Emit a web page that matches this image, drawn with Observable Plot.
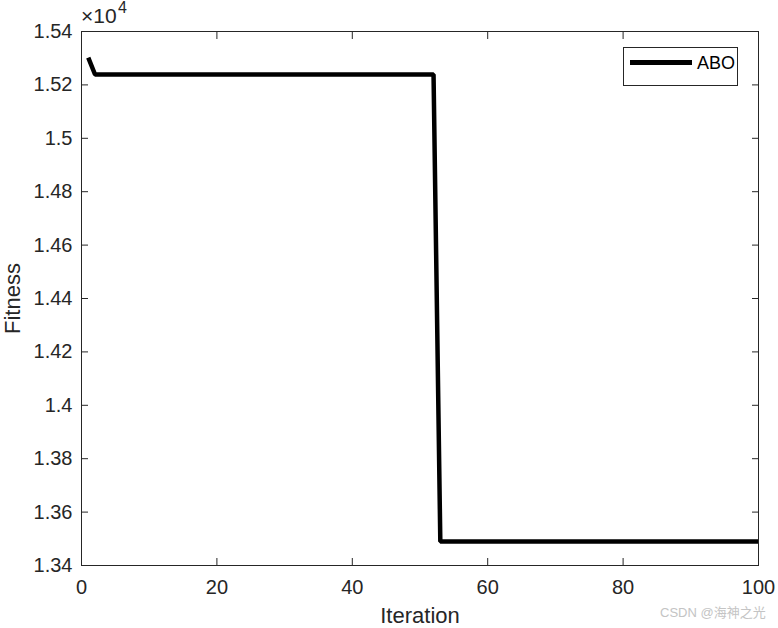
<!DOCTYPE html>
<html>
<head>
<meta charset="utf-8">
<script src="https://cdn.jsdelivr.net/npm/d3@7"></script>
<script src="https://cdn.jsdelivr.net/npm/@observablehq/plot@0.6"></script>
<style>
  html, body { margin: 0; padding: 0; background: #fff; }
  #wrap { position: relative; width: 778px; height: 628px; font-family: "Liberation Sans", Arial, sans-serif; }
  #exp { position: absolute; left: 81px; top: 0px; color: #262626; font-size: 21px; }
  #exp .b { position: absolute; left: 0; top: 4px; white-space: nowrap; line-height: 24px; }
  #exp .s { position: absolute; left: 37px; top: -2px; font-size: 16px; line-height: 20px; }
  #legend { position: absolute; left: 623px; top: 47px; width: 113px; height: 37px; border: 1px solid #262626; background: #fff; box-sizing: content-box; }
  #legend .ln { position: absolute; left: 6px; top: 12px; width: 62px; height: 5px; background: #000; }
  #legend .tx { position: absolute; left: 73px; top: 4px; font-size: 18px; color: #000; line-height: 22px; }
  #wm { position: absolute; left: 660px; top: 602px; font-size: 13px; color: #c4c4c4; font-family: "Liberation Sans", "Noto Sans CJK SC", sans-serif; white-space: nowrap; }
</style>
</head>
<body>
<div id="wrap">
  <div id="chart"></div>
  <div id="exp"><span class="b">×10</span><span class="s">4</span></div>
  <div id="legend"><div class="ln"></div><div class="tx">ABO</div></div>
  <div id="wm">CSDN @海神之光</div>
</div>
<script>
// Data (line vertices)
const iterations = [1, 2, 52, 53, 100];
const fitness = [15302, 15239, 15239, 13490, 13490];
const seriesName = "ABO";

const yTicks = [13400, 13600, 13800, 14000, 14200, 14400, 14600, 14800, 15000, 15200, 15400];
const yTickLabels = ["1.34", "1.36", "1.38", "1.4", "1.42", "1.44", "1.46", "1.48", "1.5", "1.52", "1.54"];
const xTicks = [0, 20, 40, 60, 80, 100];
const xTickLabels = ["0", "20", "40", "60", "80", "100"];

const data = iterations.map((it, i) => ({iteration: it, fitness: fitness[i], series: seriesName}));
const yLabelOf = new Map(yTicks.map((t, i) => [t, yTickLabels[i]]));
const xLabelOf = new Map(xTicks.map((t, i) => [t, xTickLabels[i]]));

const ink = "#262626";

const chart = Plot.plot({
  width: 778,
  height: 628,
  marginLeft: 81,
  marginRight: 20,
  marginTop: 31,
  marginBottom: 63,
  style: {fontFamily: "Liberation Sans, Arial, sans-serif", fontSize: "20px", color: ink, background: "#fff"},
  x: {domain: [0, 100]},
  y: {domain: [13400, 15400]},
  marks: [
    Plot.line(data, {x: "iteration", y: "fitness", stroke: "#000", strokeWidth: 4.5, strokeLinejoin: "miter", strokeLinecap: "butt"}),
    Plot.frame({stroke: ink, strokeWidth: 1}),
    // tick labels
    Plot.axisX({ticks: xTicks, tickFormat: d => xLabelOf.get(d), tickSize: 0, tickPadding: 14, fontSize: 20, fill: ink,
      label: "Iteration", labelAnchor: "center", labelOffset: 57, labelArrow: "none"}),
    Plot.axisY({ticks: yTicks, tickFormat: d => yLabelOf.get(d), tickSize: 0, tickPadding: 9, fontSize: 20, fill: ink,
      label: "Fitness", labelAnchor: "center", labelOffset: 77, labelArrow: "none"}),
    // inward tick marks on all four sides
    Plot.axisX({ticks: xTicks, anchor: "bottom", tickSize: 7, dy: -7, text: null, label: null, stroke: ink}),
    Plot.axisX({ticks: xTicks, anchor: "top", tickSize: 7, dy: 7, text: null, label: null, stroke: ink}),
    Plot.axisY({ticks: yTicks, anchor: "left", tickSize: 7, dx: 7, text: null, label: null, stroke: ink}),
    Plot.axisY({ticks: yTicks, anchor: "right", tickSize: 7, dx: -7, text: null, label: null, stroke: ink})
  ]
});
// enlarge axis title text
chart.querySelectorAll("g[aria-label='x-axis label'] text, g[aria-label='y-axis label'] text").forEach(t => {
  t.setAttribute("font-size", "22");
  t.style.fontSize = "22px";
});
document.getElementById("chart").appendChild(chart);
</script>
</body>
</html>
